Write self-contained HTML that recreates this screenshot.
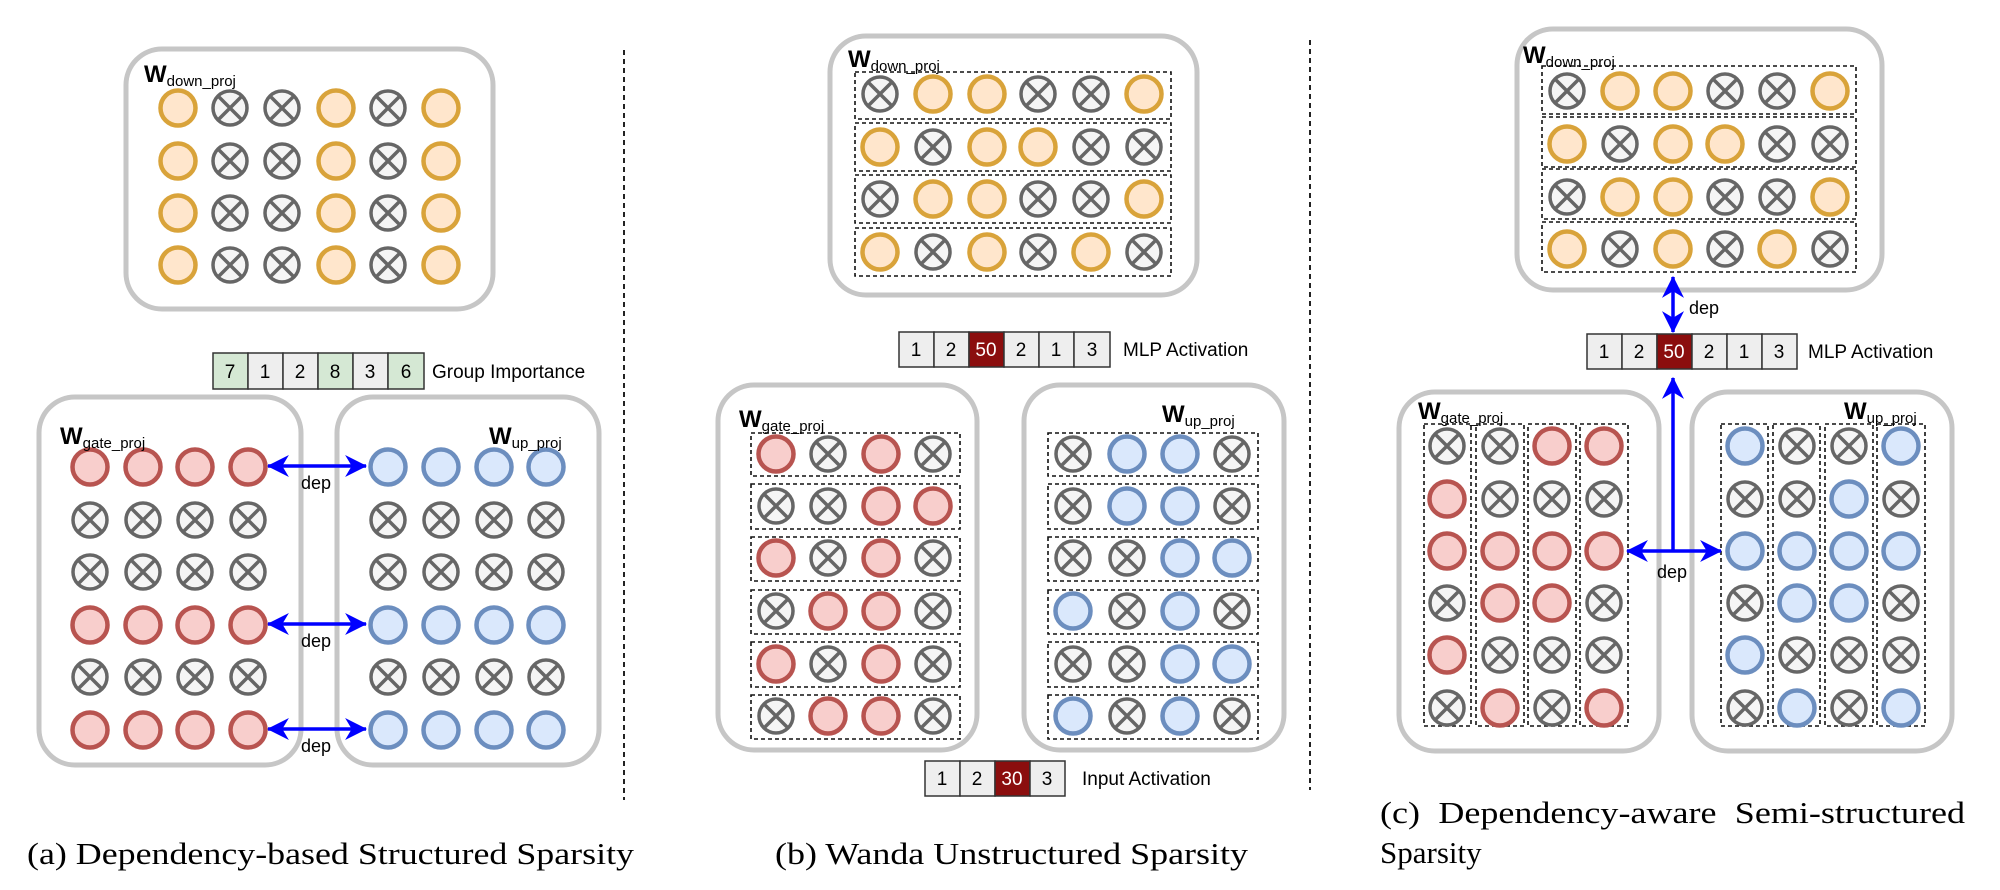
<!DOCTYPE html>
<html><head><meta charset="utf-8"><style>html,body{margin:0;padding:0;background:#fff}svg{display:block}</style></head><body>
<svg xmlns="http://www.w3.org/2000/svg" xmlns:xlink="http://www.w3.org/1999/xlink" width="2000" height="890" viewBox="0 0 2000 890" font-family="Liberation Sans, Arial, sans-serif">
<defs>
<g id="o"><circle r="17.5" fill="#ffe6cc" stroke="#d9a33a" stroke-width="4.5"/></g>
<g id="r"><circle r="17.5" fill="#f8cecc" stroke="#b85450" stroke-width="4.5"/></g>
<g id="b"><circle r="17.5" fill="#dae8fc" stroke="#6c8ebf" stroke-width="4.5"/></g>
<g id="x"><circle r="17" fill="#f5f5f5" stroke="#666" stroke-width="3.5"/><path d="M-12,-12L12,12M-12,12L12,-12" stroke="#666" stroke-width="3.5"/></g>
<marker id="ah2" viewBox="0 0 20 20" refX="19" refY="10" markerWidth="22" markerHeight="22" markerUnits="userSpaceOnUse" orient="auto-start-reverse"><path d="M0,0L20,10L0,20L6,10z" fill="#0000ff"/></marker>
</defs>
<g fill="none" stroke="#c6c6c6" stroke-width="5">
<rect x="126" y="49" width="367" height="260" rx="36"/>
<rect x="39" y="397" width="262" height="368" rx="36"/>
<rect x="337" y="397" width="262" height="368" rx="36"/>
<rect x="830" y="36" width="367" height="259" rx="36"/>
<rect x="718" y="385" width="259" height="365" rx="36"/>
<rect x="1024" y="385" width="260" height="365" rx="36"/>
<rect x="1517" y="29" width="365" height="261" rx="36"/>
<rect x="1399" y="392" width="260" height="359" rx="36"/>
<rect x="1692" y="392" width="260" height="359" rx="36"/>
</g>
<g stroke="#222" stroke-width="2" stroke-dasharray="5,4">
<line x1="624" y1="50" x2="624" y2="800"/>
<line x1="1310" y1="40" x2="1310" y2="790"/>
</g>
<g fill="none" stroke="#111" stroke-width="1.6" stroke-dasharray="4,3">
<rect x="855" y="72" width="316" height="47"/><rect x="855" y="123" width="316" height="48"/><rect x="855" y="175" width="316" height="48"/><rect x="855" y="228" width="316" height="48"/>
<rect x="751" y="433" width="209" height="43"/><rect x="751" y="484" width="209" height="45"/><rect x="751" y="537" width="209" height="44"/><rect x="751" y="590" width="209" height="44"/><rect x="751" y="642" width="209" height="45"/><rect x="751" y="695" width="209" height="44"/>
<rect x="1048" y="433" width="210" height="43"/><rect x="1048" y="484" width="210" height="45"/><rect x="1048" y="537" width="210" height="44"/><rect x="1048" y="590" width="210" height="44"/><rect x="1048" y="642" width="210" height="45"/><rect x="1048" y="695" width="210" height="44"/>
<rect x="1542" y="66" width="314" height="48"/><rect x="1542" y="117" width="314" height="50"/><rect x="1542" y="169" width="314" height="50"/><rect x="1542" y="222" width="314" height="50"/>
<rect x="1424" y="424" width="47" height="302"/><rect x="1476" y="424" width="48" height="302"/><rect x="1528" y="424" width="48" height="302"/><rect x="1580" y="424" width="48" height="302"/>
<rect x="1721" y="424" width="47" height="302"/><rect x="1773" y="424" width="47" height="302"/><rect x="1825" y="424" width="48" height="302"/><rect x="1877" y="424" width="48" height="302"/>
</g>
<g>
<use href="#o" x="178" y="108"/><use href="#x" x="230" y="108"/><use href="#x" x="282" y="108"/><use href="#o" x="336" y="108"/><use href="#x" x="388" y="108"/><use href="#o" x="441" y="108"/>
<use href="#o" x="178" y="161"/><use href="#x" x="230" y="161"/><use href="#x" x="282" y="161"/><use href="#o" x="336" y="161"/><use href="#x" x="388" y="161"/><use href="#o" x="441" y="161"/>
<use href="#o" x="178" y="213"/><use href="#x" x="230" y="213"/><use href="#x" x="282" y="213"/><use href="#o" x="336" y="213"/><use href="#x" x="388" y="213"/><use href="#o" x="441" y="213"/>
<use href="#o" x="178" y="265"/><use href="#x" x="230" y="265"/><use href="#x" x="282" y="265"/><use href="#o" x="336" y="265"/><use href="#x" x="388" y="265"/><use href="#o" x="441" y="265"/>
</g>
<g>
<use href="#r" x="90" y="467"/><use href="#r" x="143" y="467"/><use href="#r" x="195" y="467"/><use href="#r" x="248" y="467"/>
<use href="#x" x="90" y="520"/><use href="#x" x="143" y="520"/><use href="#x" x="195" y="520"/><use href="#x" x="248" y="520"/>
<use href="#x" x="90" y="572"/><use href="#x" x="143" y="572"/><use href="#x" x="195" y="572"/><use href="#x" x="248" y="572"/>
<use href="#r" x="90" y="625"/><use href="#r" x="143" y="625"/><use href="#r" x="195" y="625"/><use href="#r" x="248" y="625"/>
<use href="#x" x="90" y="677"/><use href="#x" x="143" y="677"/><use href="#x" x="195" y="677"/><use href="#x" x="248" y="677"/>
<use href="#r" x="90" y="730"/><use href="#r" x="143" y="730"/><use href="#r" x="195" y="730"/><use href="#r" x="248" y="730"/>
<use href="#b" x="388" y="467"/><use href="#b" x="441" y="467"/><use href="#b" x="494" y="467"/><use href="#b" x="546" y="467"/>
<use href="#x" x="388" y="520"/><use href="#x" x="441" y="520"/><use href="#x" x="494" y="520"/><use href="#x" x="546" y="520"/>
<use href="#x" x="388" y="572"/><use href="#x" x="441" y="572"/><use href="#x" x="494" y="572"/><use href="#x" x="546" y="572"/>
<use href="#b" x="388" y="625"/><use href="#b" x="441" y="625"/><use href="#b" x="494" y="625"/><use href="#b" x="546" y="625"/>
<use href="#x" x="388" y="677"/><use href="#x" x="441" y="677"/><use href="#x" x="494" y="677"/><use href="#x" x="546" y="677"/>
<use href="#b" x="388" y="730"/><use href="#b" x="441" y="730"/><use href="#b" x="494" y="730"/><use href="#b" x="546" y="730"/>
</g>
<g>
<use href="#x" x="880" y="94"/><use href="#o" x="933" y="94"/><use href="#o" x="987" y="94"/><use href="#x" x="1038" y="94"/><use href="#x" x="1091" y="94"/><use href="#o" x="1144" y="94"/>
<use href="#o" x="880" y="147"/><use href="#x" x="933" y="147"/><use href="#o" x="987" y="147"/><use href="#o" x="1038" y="147"/><use href="#x" x="1091" y="147"/><use href="#x" x="1144" y="147"/>
<use href="#x" x="880" y="199"/><use href="#o" x="933" y="199"/><use href="#o" x="987" y="199"/><use href="#x" x="1038" y="199"/><use href="#x" x="1091" y="199"/><use href="#o" x="1144" y="199"/>
<use href="#o" x="880" y="252"/><use href="#x" x="933" y="252"/><use href="#o" x="987" y="252"/><use href="#x" x="1038" y="252"/><use href="#o" x="1091" y="252"/><use href="#x" x="1144" y="252"/>
</g>
<g>
<use href="#r" x="776" y="454"/><use href="#x" x="828" y="454"/><use href="#r" x="881" y="454"/><use href="#x" x="933" y="454"/>
<use href="#x" x="776" y="506"/><use href="#x" x="828" y="506"/><use href="#r" x="881" y="506"/><use href="#r" x="933" y="506"/>
<use href="#r" x="776" y="558"/><use href="#x" x="828" y="558"/><use href="#r" x="881" y="558"/><use href="#x" x="933" y="558"/>
<use href="#x" x="776" y="611"/><use href="#r" x="828" y="611"/><use href="#r" x="881" y="611"/><use href="#x" x="933" y="611"/>
<use href="#r" x="776" y="664"/><use href="#x" x="828" y="664"/><use href="#r" x="881" y="664"/><use href="#x" x="933" y="664"/>
<use href="#x" x="776" y="716"/><use href="#r" x="828" y="716"/><use href="#r" x="881" y="716"/><use href="#x" x="933" y="716"/>
</g>
<g>
<use href="#x" x="1073" y="454"/><use href="#b" x="1127" y="454"/><use href="#b" x="1180" y="454"/><use href="#x" x="1232" y="454"/>
<use href="#x" x="1073" y="506"/><use href="#b" x="1127" y="506"/><use href="#b" x="1180" y="506"/><use href="#x" x="1232" y="506"/>
<use href="#x" x="1073" y="558"/><use href="#x" x="1127" y="558"/><use href="#b" x="1180" y="558"/><use href="#b" x="1232" y="558"/>
<use href="#b" x="1073" y="611"/><use href="#x" x="1127" y="611"/><use href="#b" x="1180" y="611"/><use href="#x" x="1232" y="611"/>
<use href="#x" x="1073" y="664"/><use href="#x" x="1127" y="664"/><use href="#b" x="1180" y="664"/><use href="#b" x="1232" y="664"/>
<use href="#b" x="1073" y="716"/><use href="#x" x="1127" y="716"/><use href="#b" x="1180" y="716"/><use href="#x" x="1232" y="716"/>
</g>
<g>
<use href="#x" x="1567" y="91"/><use href="#o" x="1620" y="91"/><use href="#o" x="1673" y="91"/><use href="#x" x="1725" y="91"/><use href="#x" x="1777" y="91"/><use href="#o" x="1830" y="91"/>
<use href="#o" x="1567" y="144"/><use href="#x" x="1620" y="144"/><use href="#o" x="1673" y="144"/><use href="#o" x="1725" y="144"/><use href="#x" x="1777" y="144"/><use href="#x" x="1830" y="144"/>
<use href="#x" x="1567" y="197"/><use href="#o" x="1620" y="197"/><use href="#o" x="1673" y="197"/><use href="#x" x="1725" y="197"/><use href="#x" x="1777" y="197"/><use href="#o" x="1830" y="197"/>
<use href="#o" x="1567" y="249"/><use href="#x" x="1620" y="249"/><use href="#o" x="1673" y="249"/><use href="#x" x="1725" y="249"/><use href="#o" x="1777" y="249"/><use href="#x" x="1830" y="249"/>
</g>
<g>
<use href="#x" x="1447" y="446"/><use href="#x" x="1500" y="446"/><use href="#r" x="1552" y="446"/><use href="#r" x="1604" y="446"/>
<use href="#r" x="1447" y="499"/><use href="#x" x="1500" y="499"/><use href="#x" x="1552" y="499"/><use href="#x" x="1604" y="499"/>
<use href="#r" x="1447" y="551"/><use href="#r" x="1500" y="551"/><use href="#r" x="1552" y="551"/><use href="#r" x="1604" y="551"/>
<use href="#x" x="1447" y="603"/><use href="#r" x="1500" y="603"/><use href="#r" x="1552" y="603"/><use href="#x" x="1604" y="603"/>
<use href="#r" x="1447" y="655"/><use href="#x" x="1500" y="655"/><use href="#x" x="1552" y="655"/><use href="#x" x="1604" y="655"/>
<use href="#x" x="1447" y="708"/><use href="#r" x="1500" y="708"/><use href="#x" x="1552" y="708"/><use href="#r" x="1604" y="708"/>
</g>
<g>
<use href="#b" x="1745" y="446"/><use href="#x" x="1797" y="446"/><use href="#x" x="1849" y="446"/><use href="#b" x="1901" y="446"/>
<use href="#x" x="1745" y="499"/><use href="#x" x="1797" y="499"/><use href="#b" x="1849" y="499"/><use href="#x" x="1901" y="499"/>
<use href="#b" x="1745" y="551"/><use href="#b" x="1797" y="551"/><use href="#b" x="1849" y="551"/><use href="#b" x="1901" y="551"/>
<use href="#x" x="1745" y="603"/><use href="#b" x="1797" y="603"/><use href="#b" x="1849" y="603"/><use href="#x" x="1901" y="603"/>
<use href="#b" x="1745" y="655"/><use href="#x" x="1797" y="655"/><use href="#x" x="1849" y="655"/><use href="#x" x="1901" y="655"/>
<use href="#x" x="1745" y="708"/><use href="#b" x="1797" y="708"/><use href="#x" x="1849" y="708"/><use href="#b" x="1901" y="708"/>
</g>
<g stroke="#0000ff" stroke-width="3.5" fill="none">
<line x1="268" y1="466" x2="366" y2="466" marker-start="url(#ah2)" marker-end="url(#ah2)"/>
<line x1="268" y1="624" x2="366" y2="624" marker-start="url(#ah2)" marker-end="url(#ah2)"/>
<line x1="268" y1="729" x2="366" y2="729" marker-start="url(#ah2)" marker-end="url(#ah2)"/>
<line x1="1673" y1="277" x2="1673" y2="332" marker-start="url(#ah2)" marker-end="url(#ah2)"/>
<line x1="1673" y1="551" x2="1673" y2="378" marker-end="url(#ah2)"/>
<line x1="1627" y1="551" x2="1721" y2="551" marker-start="url(#ah2)" marker-end="url(#ah2)"/>
</g>
<g font-size="18" fill="#000" text-anchor="middle">
<text x="316" y="489">dep</text><text x="316" y="647">dep</text><text x="316" y="752">dep</text>
<text x="1704" y="314">dep</text><text x="1672" y="578">dep</text>
</g>
<g stroke="#333" stroke-width="1.5">
<rect x="213" y="353" width="35" height="36" fill="#d5e8d4"/><rect x="248" y="353" width="35" height="36" fill="#eeeeee"/><rect x="283" y="353" width="35" height="36" fill="#eeeeee"/><rect x="318" y="353" width="35" height="36" fill="#d5e8d4"/><rect x="353" y="353" width="35" height="36" fill="#eeeeee"/><rect x="388" y="353" width="36" height="36" fill="#d5e8d4"/>
<rect x="899" y="332" width="35" height="35" fill="#eeeeee"/><rect x="934" y="332" width="35" height="35" fill="#eeeeee"/><rect x="969" y="332" width="35" height="35" fill="#8b0e0e"/><rect x="1004" y="332" width="35" height="35" fill="#eeeeee"/><rect x="1039" y="332" width="35" height="35" fill="#eeeeee"/><rect x="1074" y="332" width="36" height="35" fill="#eeeeee"/>
<rect x="925" y="761" width="35" height="35" fill="#eeeeee"/><rect x="960" y="761" width="35" height="35" fill="#eeeeee"/><rect x="995" y="761" width="35" height="35" fill="#8b0e0e"/><rect x="1030" y="761" width="35" height="35" fill="#eeeeee"/>
<rect x="1587" y="334" width="35" height="35" fill="#eeeeee"/><rect x="1622" y="334" width="35" height="35" fill="#eeeeee"/><rect x="1657" y="334" width="35" height="35" fill="#8b0e0e"/><rect x="1692" y="334" width="35" height="35" fill="#eeeeee"/><rect x="1727" y="334" width="35" height="35" fill="#eeeeee"/><rect x="1762" y="334" width="35" height="35" fill="#eeeeee"/>
</g>
<g font-size="19" text-anchor="middle" fill="#000">
<text x="230" y="378">7</text><text x="265" y="378">1</text><text x="300" y="378">2</text><text x="335" y="378">8</text><text x="370" y="378">3</text><text x="406" y="378">6</text>
<text x="916" y="356">1</text><text x="951" y="356">2</text><text x="986" y="356" fill="#fff">50</text><text x="1021" y="356">2</text><text x="1056" y="356">1</text><text x="1092" y="356">3</text>
<text x="942" y="785">1</text><text x="977" y="785">2</text><text x="1012" y="785" fill="#fff">30</text><text x="1047" y="785">3</text>
<text x="1604" y="358">1</text><text x="1639" y="358">2</text><text x="1674" y="358" fill="#fff">50</text><text x="1709" y="358">2</text><text x="1744" y="358">1</text><text x="1779" y="358">3</text>
</g>
<g font-size="19" fill="#000">
<text x="432" y="378">Group Importance</text>
<text x="1123" y="356">MLP Activation</text>
<text x="1082" y="785">Input Activation</text>
<text x="1808" y="358">MLP Activation</text>
</g>
<g fill="#000">
<text x="144" y="82" font-size="24" font-weight="bold">W<tspan font-size="15" font-weight="normal" dy="4">down_proj</tspan></text>
<text x="60" y="444" font-size="24" font-weight="bold">W<tspan font-size="15" font-weight="normal" dy="4">gate_proj</tspan></text>
<text x="489" y="444" font-size="24" font-weight="bold">W<tspan font-size="15" font-weight="normal" dy="4">up_proj</tspan></text>
<text x="848" y="67" font-size="24" font-weight="bold">W<tspan font-size="15" font-weight="normal" dy="4">down_proj</tspan></text>
<text x="739" y="427" font-size="24" font-weight="bold">W<tspan font-size="15" font-weight="normal" dy="4">gate_proj</tspan></text>
<text x="1162" y="422" font-size="24" font-weight="bold">W<tspan font-size="15" font-weight="normal" dy="4">up_proj</tspan></text>
<text x="1523" y="63" font-size="24" font-weight="bold">W<tspan font-size="15" font-weight="normal" dy="4">down_proj</tspan></text>
<text x="1418" y="419" font-size="24" font-weight="bold">W<tspan font-size="15" font-weight="normal" dy="4">gate_proj</tspan></text>
<text x="1844" y="419" font-size="24" font-weight="bold">W<tspan font-size="15" font-weight="normal" dy="4">up_proj</tspan></text>
</g>
<g font-family="Liberation Serif, Times New Roman, serif" font-size="31" fill="#000">
<text x="27" y="864" textLength="607" lengthAdjust="spacingAndGlyphs">(a) Dependency-based Structured Sparsity</text>
<text x="775" y="864" textLength="473" lengthAdjust="spacingAndGlyphs">(b) Wanda Unstructured Sparsity</text>
<text x="1380" y="823" textLength="585" lengthAdjust="spacingAndGlyphs" word-spacing="8">(c) Dependency-aware Semi-structured</text>
<text x="1380" y="863">Sparsity</text>
</g>
</svg>
</body></html>
